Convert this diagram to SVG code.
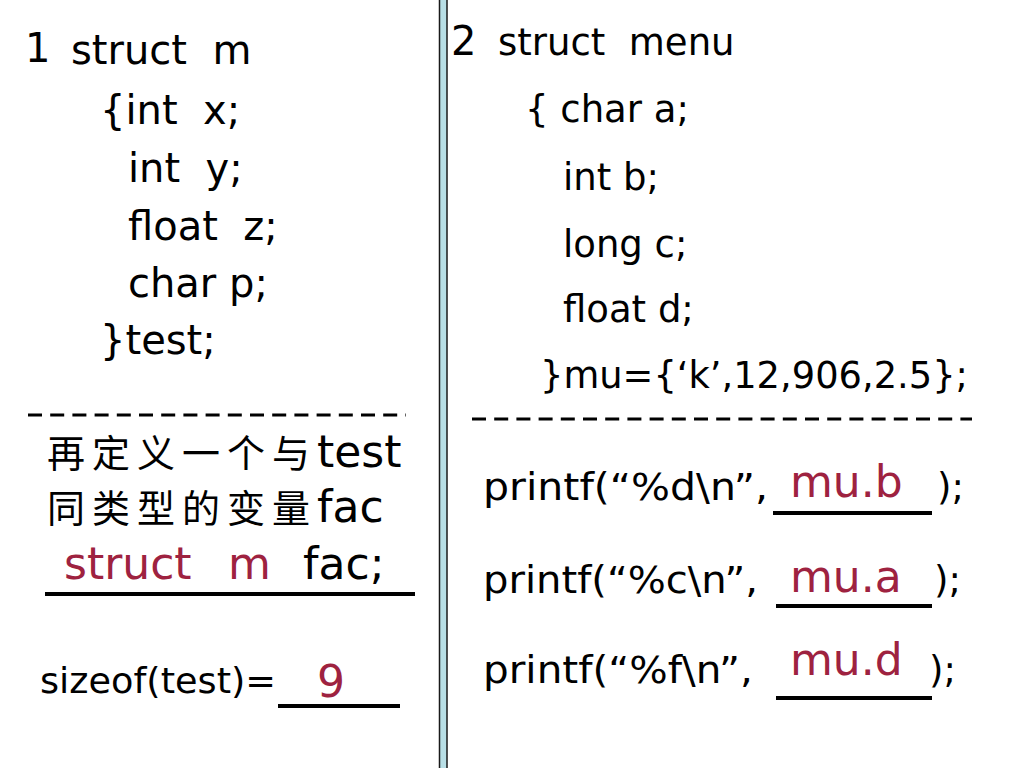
<svg xmlns="http://www.w3.org/2000/svg" width="1024" height="768" viewBox="0 0 1024 768">
<style>
.t{font-family:"DejaVu Sans","Verdana",sans-serif;fill:#000}
.r{fill:#9e2240}
.cn{font-family:"Noto Sans CJK SC",sans-serif;font-size:38px;letter-spacing:7px}
.dash{stroke:#000;stroke-width:3;stroke-dasharray:14 8.2}
.ul{stroke:#000;stroke-width:4}
</style>
<rect width="1024" height="768" fill="#fff"/>
<g id="divider">
<rect x="439.5" y="-2" width="7.5" height="772" fill="#b8dfe6" stroke="#1a1a1a" stroke-width="1.5"/>
</g>
<g id="left-struct" class="t" font-size="40">
<text x="25" y="62">1</text>
<text x="71" y="64">struct&#160; m</text>
<text x="100" y="124">{int&#160; x;</text>
<text x="128" y="182">int&#160; y;</text>
<text x="128" y="240">float&#160; z;</text>
<text x="128" y="297">char p;</text>
<text x="100" y="354">}test;</text>
</g>
<g id="right-struct" class="t" font-size="37">
<text x="451" y="55" font-size="40">2</text>
<text x="498" y="55">struct&#160; menu</text>
<text x="525" y="122">{ char a;</text>
<text x="563" y="190">int b;</text>
<text x="563" y="257">long c;</text>
<text x="563" y="322">float d;</text>
<text x="540" y="388" textLength="428" lengthAdjust="spacingAndGlyphs">}mu={‘k’,12,906,2.5};</text>
</g>
<g id="separators">
<line class="dash" x1="28" y1="415" x2="406" y2="415"/>
<line class="dash" x1="472" y1="419" x2="972" y2="419"/>
</g>
<g id="question-left" class="t" font-size="44">
<text x="47" y="467"><tspan class="cn">再定义一个与</tspan>test</text>
<text x="47" y="522"><tspan class="cn">同类型的变量</tspan>fac</text>
<text x="64" y="579" class="r">struct</text>
<text x="228" y="579" class="r">m</text>
<text x="303" y="579">fac;</text>
<line class="ul" x1="45" y1="594" x2="415" y2="594"/>
<text x="40" y="693" font-size="36" textLength="236" lengthAdjust="spacingAndGlyphs">sizeof(test)=</text>
<line class="ul" x1="278" y1="706" x2="400" y2="706"/>
<text x="317" y="697" class="r">9</text>
</g>
<g id="question-right" class="t" font-size="37">
<text x="483" y="500" textLength="285" lengthAdjust="spacingAndGlyphs">printf(“%d\n”,</text>
<line class="ul" x1="773" y1="513" x2="932" y2="513"/>
<text x="790" y="497" class="r" font-size="44">mu.b</text>
<text x="937" y="500">);</text>
<text x="483" y="593" textLength="275" lengthAdjust="spacingAndGlyphs">printf(“%c\n”,</text>
<line class="ul" x1="776" y1="606" x2="932" y2="606"/>
<text x="790" y="592" class="r" font-size="44">mu.a</text>
<text x="934" y="593">);</text>
<text x="483" y="683" textLength="270" lengthAdjust="spacingAndGlyphs">printf(“%f\n”,</text>
<line class="ul" x1="776" y1="698" x2="932" y2="698"/>
<text x="790" y="675" class="r" font-size="44">mu.d</text>
<text x="929" y="683">);</text>
</g>
</svg>
